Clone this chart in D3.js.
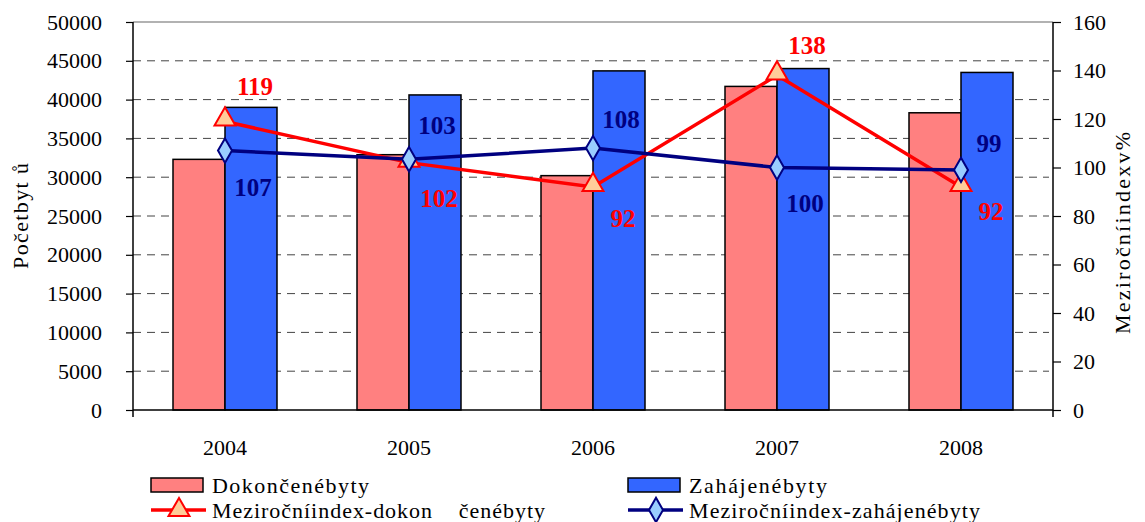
<!DOCTYPE html>
<html>
<head>
<meta charset="utf-8">
<script src="https://cdn.jsdelivr.net/npm/d3@7"></script>
<style>
  body { margin: 0; background: #fff; }
  svg { font-family: "Liberation Serif", "Times New Roman", serif; }
</style>
</head>
<body>
<div id="chart"></div>
<script>
const years = ["2004", "2005", "2006", "2007", "2008"];
const dokoncene = [32300, 32900, 30200, 41700, 38300];
const zahajene = [39000, 40600, 43700, 44000, 43500];
const indexDokoncene = [119, 102, 92, 138, 92];
const indexZahajene = [107, 103.4, 108, 100, 99];
const leftTicks = [0, 5000, 10000, 15000, 20000, 25000, 30000, 35000, 40000, 45000, 50000];
const rightTicks = [0, 20, 40, 60, 80, 100, 120, 140, 160];

const width = 1145, height = 522;
const margin = { left: 133, right: 92, top: 22, bottom: 112 };
const innerW = width - margin.left - margin.right;
const innerH = height - margin.top - margin.bottom;

const svg = d3.select("#chart")
  .append("svg")
  .attr("width", width)
  .attr("height", height);

const g = svg.append("g")
  .attr("transform", `translate(${margin.left},${margin.top})`);

const x = d3.scaleBand().domain(years).range([0, innerW]);
const xSub = d3.scaleBand().domain(["dok", "zah"]).range([-52, 52]);
const y = d3.scaleLinear().domain([0, 50000]).range([innerH, 0]);
const y2 = d3.scaleLinear().domain([0, 160]).range([innerH, 0]);
const cx = d => x(d) + x.bandwidth() / 2;

// gridlines
g.selectAll(".grid")
  .data(leftTicks.filter(t => t > 0 && t < 50000))
  .join("line")
  .attr("x1", 0).attr("x2", innerW - 4)
  .attr("y1", d => y(d)).attr("y2", d => y(d))
  .attr("stroke", "#444").attr("stroke-width", 1)
  .attr("stroke-dasharray", "8,6");

// top border
g.append("line")
  .attr("x1", 0).attr("x2", innerW)
  .attr("y1", 0).attr("y2", 0)
  .attr("stroke", "#999").attr("stroke-width", 1.5);

// bars
const series = [
  { key: "dok", values: dokoncene, fill: "#ff8080" },
  { key: "zah", values: zahajene, fill: "#3366ff" }
];
series.forEach(s => {
  g.append("g").selectAll("rect")
    .data(years)
    .join("rect")
    .attr("x", (d) => cx(d) + xSub(s.key))
    .attr("y", (d, i) => y(s.values[i]))
    .attr("width", xSub.bandwidth())
    .attr("height", (d, i) => innerH - y(s.values[i]))
    .attr("fill", s.fill)
    .attr("stroke", "#000")
    .attr("stroke-width", 1.5);
});

// axes
const axL = g.append("g").call(d3.axisLeft(y).tickValues(leftTicks).tickFormat(d3.format("d"))
  .tickSize(7).tickSizeOuter(0).tickPadding(24));
const axR = g.append("g").attr("transform", `translate(${innerW},0)`)
  .call(d3.axisRight(y2).tickValues(rightTicks).tickSize(8).tickSizeOuter(0).tickPadding(12));
const axB = g.append("g").attr("transform", `translate(0,${innerH})`)
  .call(d3.axisBottom(x).tickSize(0).tickPadding(29));
[axL, axR, axB].forEach(a => {
  a.select(".domain").attr("stroke", "#000").attr("stroke-width", 1.5);
  a.selectAll(".tick line").attr("stroke", "#000").attr("stroke-width", 1.2);
  a.selectAll("text").attr("font-size", 22).attr("fill", "#000")
    .attr("font-family", "Liberation Serif");
});
axL.select(".domain").attr("d", `M0,0V${innerH + 7}`);
axR.select(".domain").attr("d", `M0,0V${innerH + 7}`);
axB.select(".domain").attr("d", `M0,0H${innerW}`);

// axis titles
svg.append("text")
  .attr("transform", "translate(28,216) rotate(-90)")
  .attr("text-anchor", "middle")
  .attr("font-size", 22)
  .attr("textLength", 106).attr("lengthAdjust", "spacing")
  .text("Početbyt ů");
svg.append("text")
  .attr("transform", "translate(1130,233) rotate(-90)")
  .attr("text-anchor", "middle")
  .attr("font-size", 22)
  .attr("textLength", 202).attr("lengthAdjust", "spacing")
  .text("Meziročníindexv%");

// lines
const line = d3.line().x(d => cx(d.year)).y(d => y2(d.v));
const redData = years.map((yr, i) => ({ year: yr, v: indexDokoncene[i] }));
const navyData = years.map((yr, i) => ({ year: yr, v: indexZahajene[i] }));

g.append("path").datum(redData)
  .attr("d", line).attr("fill", "none")
  .attr("stroke", "#ff0000").attr("stroke-width", 3.5);
g.append("path").datum(navyData)
  .attr("d", line).attr("fill", "none")
  .attr("stroke", "#000080").attr("stroke-width", 3.5);

const tri = d3.symbol().type(d3.symbolTriangle).size(190);
const dia = d3.symbol().type(d3.symbolDiamond).size(170);

g.selectAll(".tri").data(redData).join("path")
  .attr("transform", d => `translate(${cx(d.year)},${y2(d.v) - 2})`)
  .attr("d", tri).attr("fill", "#ffcc99")
  .attr("stroke", "#ff0000").attr("stroke-width", 2);
g.selectAll(".dia").data(navyData).join("path")
  .attr("transform", d => `translate(${cx(d.year)},${y2(d.v)})`)
  .attr("d", dia).attr("fill", "#99ccff")
  .attr("stroke", "#000080").attr("stroke-width", 2);

// data labels
const redOffset = [-35, 36, 31, -30, 24];
const navyOffset = [37, -34, -29, 36, -27];
g.selectAll(".lblR").data(redData).join("text")
  .attr("x", d => cx(d.year) + 30)
  .attr("y", (d, i) => y2(d.v) + redOffset[i])
  .attr("dy", "0.35em")
  .attr("text-anchor", "middle")
  .attr("font-size", 25).attr("font-weight", "bold")
  .attr("fill", "#ff0000")
  .text(d => d3.format(".0f")(d.v));
g.selectAll(".lblN").data(navyData).join("text")
  .attr("x", d => cx(d.year) + 28)
  .attr("y", (d, i) => y2(d.v) + navyOffset[i])
  .attr("dy", "0.35em")
  .attr("text-anchor", "middle")
  .attr("font-size", 25).attr("font-weight", "bold")
  .attr("fill", "#000080")
  .text(d => d3.format(".0f")(d.v));

// legend
const legend = svg.append("g");
const legItems = [
  { x: 151, y: 485, type: "rect", fill: "#ff8080", label: "Dokončenébyty", len: 157 },
  { x: 628, y: 485, type: "rect", fill: "#3366ff", label: "Zahájenébyty", len: 138 },
  { x: 151, y: 510, type: "tri", label: "Meziročníindex-dokon\u00a0\u00a0\u00a0\u00a0čenébyty", len: 333 },
  { x: 628, y: 510, type: "dia", label: "Meziročníindex-zahájenébyty", len: 291 }
];
legItems.forEach(it => {
  if (it.type === "rect") {
    legend.append("rect")
      .attr("x", it.x).attr("y", it.y - 7)
      .attr("width", 52).attr("height", 14)
      .attr("fill", it.fill).attr("stroke", "#000").attr("stroke-width", 1.5);
  } else {
    const col = it.type === "tri" ? "#ff0000" : "#000080";
    legend.append("line")
      .attr("x1", it.x).attr("x2", it.x + 55)
      .attr("y1", it.y).attr("y2", it.y)
      .attr("stroke", col).attr("stroke-width", 3.5);
    legend.append("path")
      .attr("transform", `translate(${it.x + 28},${it.y})`)
      .attr("d", it.type === "tri" ? tri : dia)
      .attr("fill", it.type === "tri" ? "#ffcc99" : "#99ccff")
      .attr("stroke", col).attr("stroke-width", 2);
  }
  legend.append("text")
    .attr("x", it.x + 61).attr("y", it.y)
    .attr("dy", "0.35em")
    .attr("font-size", 22)
    .attr("textLength", it.len).attr("lengthAdjust", "spacing")
    .text(it.label);
});
</script>
</body>
</html>
